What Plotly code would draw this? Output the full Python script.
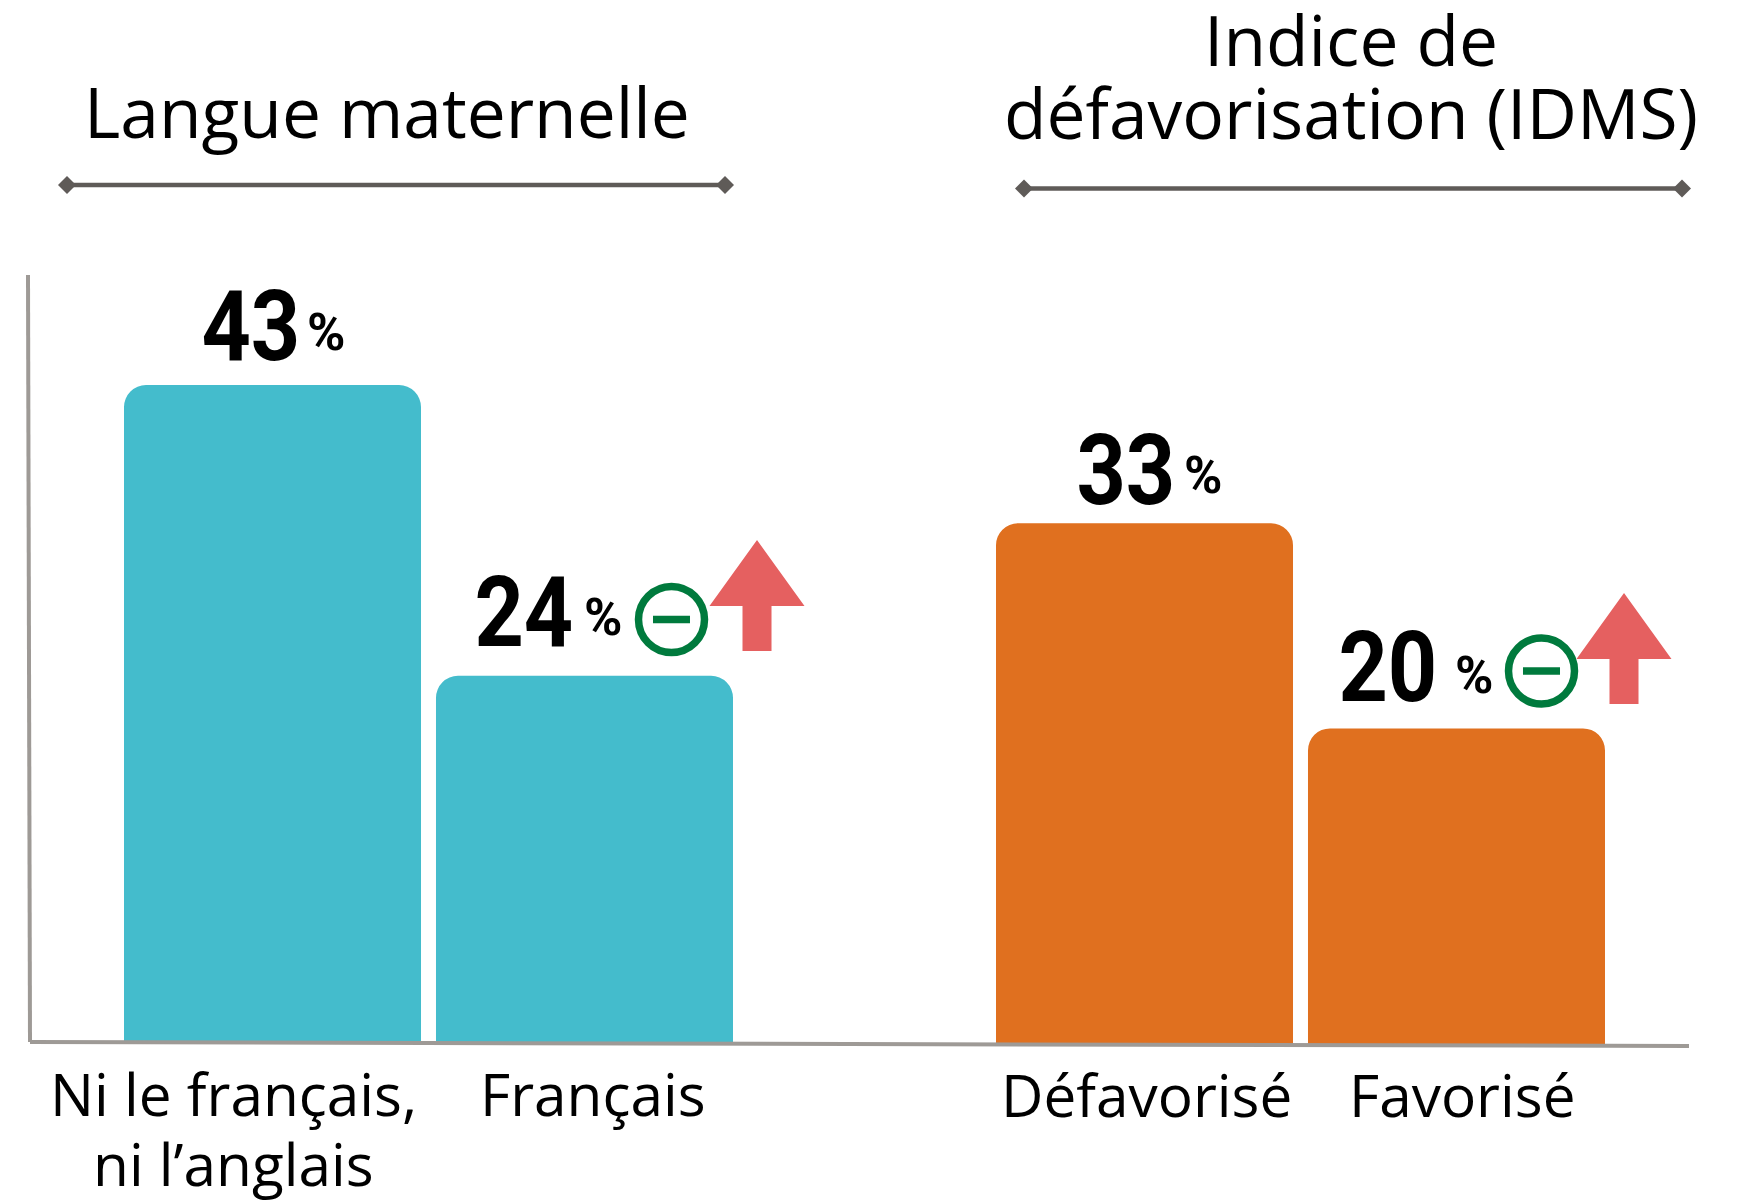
import plotly.graph_objects as go

W, H = 1741, 1202

lang_categories = ["Ni le français,<br>ni l’anglais", "Français"]
lang_values = [43, 24]
idms_categories = ["Défavorisé", "Favorisé"]
idms_values = [33, 20]
group_titles = ["Langue maternelle", "Indice de", "défavorisation (IDMS)"]

TEAL = "#44bccc"
ORANGE = "#e0701f"
AXIS = "#9e9a96"
BRACKET = "#5f5b58"
GREEN = "#007a3d"
RED = "#e56060"

BODY = "Open Sans"
NUM = "Roboto"


def px(x):
    return x / W


def py(y):
    return 1 - y / H


def path(points):
    return "M " + " L ".join(f"{px(x):.5f},{py(y):.5f}" for x, y in points) + " Z"


fig = go.Figure()
fig.add_trace(go.Bar(x=lang_categories, y=lang_values, marker_color=TEAL, marker_line_width=0,
                     xaxis="x", yaxis="y", showlegend=False, hoverinfo="skip"))
fig.add_trace(go.Bar(x=idms_categories, y=idms_values, marker_color=ORANGE, marker_line_width=0,
                     xaxis="x2", yaxis="y2", showlegend=False, hoverinfo="skip"))

shapes = []


def line(x0, y0, x1, y1, color, width):
    shapes.append(dict(type="line", xref="paper", yref="paper", x0=px(x0), y0=py(y0), x1=px(x1), y1=py(y1),
                       line=dict(color=color, width=width), layer="above"))


def filled(points, color):
    shapes.append(dict(type="path", xref="paper", yref="paper", path=path(points), fillcolor=color,
                       line=dict(width=0), layer="above"))


# axes
line(28, 275, 30, 1042, AXIS, 4)
line(30, 1042, 1689, 1046, AXIS, 4)

# brackets
for x0, x1, y in [(67, 725, 185), (1024, 1682, 188.5)]:
    line(x0, y, x1, y, BRACKET, 4.5)
    for x in (x0, x1):
        filled([(x - 9, y), (x, y - 9), (x + 9, y), (x, y + 9)], BRACKET)


def icons(cx, cy, ax, ay):
    shapes.append(dict(type="circle", xref="paper", yref="paper", x0=px(cx - 33), x1=px(cx + 33),
                       y0=py(cy + 33), y1=py(cy - 33), line=dict(color=GREEN, width=7.5),
                       fillcolor="rgba(0,0,0,0)", layer="above"))
    filled([(cx - 18.5, cy - 3.7), (cx + 18.5, cy - 3.7), (cx + 18.5, cy + 3.7), (cx - 18.5, cy + 3.7)], GREEN)
    filled([(ax, ay), (ax + 47.5, ay + 66), (ax + 14.5, ay + 66), (ax + 14.5, ay + 111),
            (ax - 14.5, ay + 111), (ax - 14.5, ay + 66), (ax - 47.5, ay + 66)], RED)


icons(671.5, 619.5, 757, 540)
icons(1541.5, 671, 1624, 593)

annotations = []


def note(text, x, y, xref, yref, size, family=BODY, xshift=0, yshift=0, bold=False, ya="middle"):
    if bold:
        text = f"<b>{text}</b>"
    annotations.append(dict(text=text, x=x, y=y, xref=xref, yref=yref, xanchor="center", yanchor=ya,
                            xshift=xshift, yshift=yshift, showarrow=False, align="center",
                            font=dict(family=family, size=size, color="black")))


# titles
note(group_titles[0], px(387), py(111), "paper", "paper", 69.5)
note(group_titles[1], px(1351), py(39), "paper", "paper", 69.5)
note(group_titles[2], px(1351), py(112), "paper", "paper", 69.5)

# category labels
for cat, dx, xr, yr in [(lang_categories[0], -39, "x", "y"), (lang_categories[1], 8, "x", "y"),
                        (idms_categories[0], 2, "x2", "y2"), (idms_categories[1], 6, "x2", "y2")]:
    for i, part in enumerate(cat.split("<br>")):
        note(part, cat, 0, xr, yr, 58.5, xshift=dx, yshift=-8 - 70 * i, ya="top")

# value labels: digits and percent sign placed separately
label_pos = [
    (lang_categories[0], lang_values[0], "x", "y", -22, 59, 53, 53),
    (lang_categories[1], lang_values[1], "x", "y", -61, 64, 18, 58),
    (idms_categories[0], idms_values[0], "x2", "y2", -19, 53, 58, 48),
    (idms_categories[1], idms_values[1], "x2", "y2", -69, 61, 17, 53),
]
for cat, val, xr, yr, dx, dy, pdx, pdy in label_pos:
    note(str(val), cat, val, xr, yr, 99, NUM, xshift=dx, yshift=dy, bold=True)
    note("%", cat, val, xr, yr, 52, NUM, xshift=pdx, yshift=pdy, bold=True)

fig.update_layout(
    width=W, height=H, margin=dict(l=0, r=0, t=0, b=0), paper_bgcolor="white", plot_bgcolor="rgba(0,0,0,0)",
    bargap=0.048, barcornerradius=22, shapes=shapes, annotations=annotations,
    xaxis=dict(domain=[px(116.5), px(740.5)], visible=False, type="category", categoryorder="array",
               categoryarray=lang_categories, range=[-0.5, 1.5]),
    yaxis=dict(domain=[py(1043), py(275)], visible=False, range=[0, 768 / 15.3]),
    xaxis2=dict(domain=[px(988.5), px(1612.5)], visible=False, type="category", categoryorder="array",
                categoryarray=idms_categories, range=[-0.5, 1.5], anchor="y2"),
    yaxis2=dict(domain=[py(1044), py(275)], visible=False, range=[0, 769 / 15.78], anchor="x2"),
)

# The reference numerals are condensed; narrow the large digits in place.
squeeze = """
document.body.style.margin='0';
document.querySelectorAll('.annotation-text').forEach(function(t){
  if (parseFloat(t.style.fontSize) > 90) {
    t.style.transformBox='fill-box';
    t.style.transformOrigin='center';
    t.style.transform='scaleX(0.87)';
  }
});
"""
fig.write_html("out.html", post_script=squeeze, config=dict(displayModeBar=False))
